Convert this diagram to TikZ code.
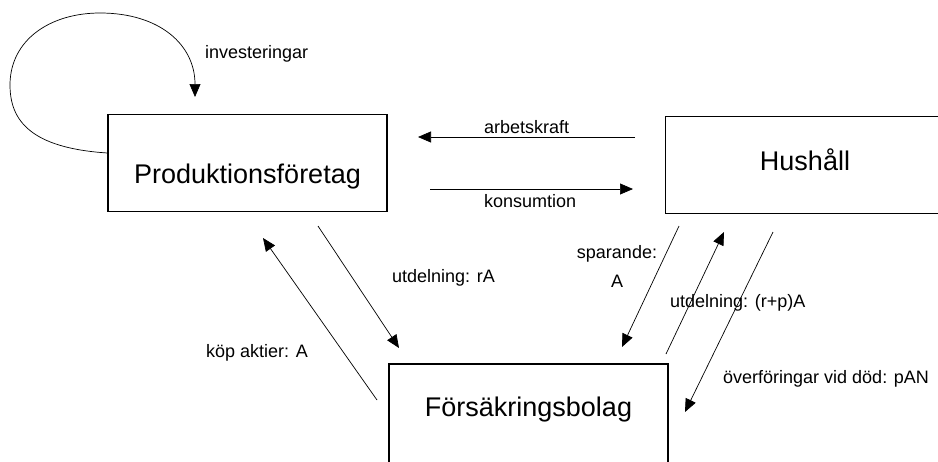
\documentclass[tikz,border=0pt]{standalone}
\usepackage{fontspec}
\setmainfont{Liberation Sans}
\usetikzlibrary{arrows.meta}

\begin{document}
\begin{tikzpicture}[x=1pt, y=-1pt,
  box/.style={draw, line width=1.1pt, minimum width=279pt, minimum height=97pt,
              inner sep=0pt, font=\fontsize{27}{32}\selectfont},
  flow/.style={-{Triangle[length=13pt, width=11pt]}, line width=0.7pt},
  lbl/.style={anchor=base west, inner sep=0pt, font=\fontsize{18}{29}\selectfont}]
  \useasboundingbox (0,0) rectangle (938,461);
  \clip (0,0) rectangle (938,461);

  % Sectors
  \node[box, text height=46pt, text depth=6pt] (prod) at (247.5,163) {Produktionsföretag};
  \node[box, text height=20pt, text depth=10pt] (hush) at (805,165) {Hushåll};
  \node[box, minimum height=110pt, text height=20pt, text depth=26pt] (fors)
    at (528.5,419) {Försäkringsbolag};

  % Free ends of the flows
  \coordinate (inv-b) at (195,97);
  \coordinate (ak-a) at (635,137);  \coordinate (ak-b) at (418,137);
  \coordinate (ko-a) at (430,189);  \coordinate (ko-b) at (633,189);
  \coordinate (kop-a) at (377,400); \coordinate (kop-b) at (263,238);
  \coordinate (utr-a) at (318,226); \coordinate (utr-b) at (399,348);
  \coordinate (sp-a) at (679,226);  \coordinate (sp-b) at (622,347);
  \coordinate (urp-a) at (666,354); \coordinate (urp-b) at (724,232);
  \coordinate (ov-a) at (773,232);  \coordinate (ov-b) at (685,412);

  % Flows
  \draw[flow] ([yshift=10pt]prod.west) .. controls (30,148) and (10,120) .. (10,85)
    .. controls (10,40) and (50,13) .. (100,13)
    .. controls (160,13) and (195,45) .. (inv-b);
  \draw[flow] (ak-a) -- (ak-b);
  \draw[flow] (ko-a) -- (ko-b);
  \draw[flow] (kop-a) -- (kop-b);
  \draw[flow] (utr-a) -- (utr-b);
  \draw[flow] (sp-a) -- (sp-b);
  \draw[flow] (urp-a) -- (urp-b);
  \draw[flow] (ov-a) -- (ov-b);

  % Labels
  \node[lbl] (inv) at (205,58) {investeringar};
  \node[lbl] (ak) at (484,133) {arbetskraft};
  \node[lbl] (ko) at (484,207) {konsumtion};
  \node[lbl] (kop) at (206,357) {köp aktier: A};
  \node[lbl] (utr) at (392,282) {utdelning: rA};
  \node[lbl, anchor=center, align=center] (sp) at (617,266) {sparande:\\A};
  \node[lbl] (urp) at (670,307) {utdelning: (r+p)A};
  \node[lbl] (ov) at (723,383) {överföringar vid död: pAN};
\end{tikzpicture}
\end{document}
